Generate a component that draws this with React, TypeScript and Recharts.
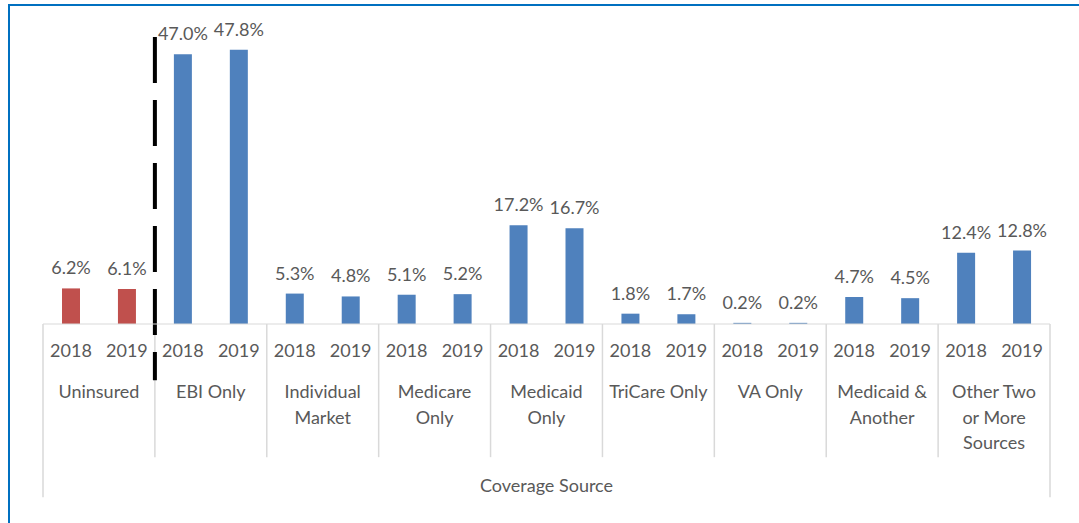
import React from "react";
import {
  BarChart,
  Bar,
  XAxis,
  YAxis,
  Cell,
  LabelList,
  ReferenceLine,
} from "recharts";

// coverage groups, two years each
const groups = [
  ["Uninsured"],
  ["EBI Only"],
  ["Individual", "Market"],
  ["Medicare", "Only"],
  ["Medicaid", "Only"],
  ["TriCare Only"],
  ["VA Only"],
  ["Medicaid &", "Another"],
  ["Other Two", "or More", "Sources"],
];
const years = ["2018", "2019"];
const values2018 = [6.2, 47.0, 5.3, 5.1, 17.2, 1.8, 0.2, 4.7, 12.4];
const values2019 = [6.1, 47.8, 4.8, 5.2, 16.7, 1.7, 0.2, 4.5, 12.8];

const BLUE = "#4F81BD";
const RED = "#C0504D";
const TEXT = "#595959";
const GRID = "#D9D9D9";
const FONT = "Lato, 'Noto Sans', sans-serif";

const data = groups.flatMap((g, i) => [
  { pos: i * 2 + 0.5, year: years[0], value: values2018[i], group: i },
  { pos: i * 2 + 1.5, year: years[1], value: values2019[i], group: i },
]);

const yearTicks = data.map((d) => d.pos);
const groupTicks = groups.map((_, i) => i * 2 + 1);
const separators = groups.map((_, i) => i * 2).concat([groups.length * 2]);

function YearTick(props: any) {
  const { x, y, payload } = props;
  const idx = yearTicks.indexOf(payload.value);
  return (
    <text
      x={x}
      y={y + 25}
      textAnchor="middle"
      fill={TEXT}
      fontSize={18}
      fontFamily={FONT}
    >
      {data[idx] ? data[idx].year : ""}
    </text>
  );
}

function GroupTick(props: any) {
  const { x, y, payload } = props;
  const lines = groups[(payload.value - 1) / 2] || [];
  return (
    <text
      x={x}
      y={y + 26}
      textAnchor="middle"
      fill={TEXT}
      fontSize={18}
      fontFamily={FONT}
    >
      {lines.map((l, i) => (
        <tspan key={i} x={x} dy={i === 0 ? 0 : 25.5}>
          {l}
        </tspan>
      ))}
    </text>
  );
}

export default function App() {
  return (
    <div
      style={{
        position: "absolute",
        left: 0,
        top: 0,
        width: 1079,
        height: 523,
        background: "#fff",
      }}
    >
      <div
        style={{
          position: "absolute",
          left: 8,
          top: 4,
          right: 0,
          bottom: 0,
          borderLeft: "2px solid #0070C0",
          borderTop: "2px solid #0070C0",
        }}
      />
      <BarChart
        width={1079}
        height={523}
        data={data}
        margin={{ top: 37, right: 29, bottom: 39, left: 43 }}
        style={{ position: "absolute", left: 0, top: 0 }}
      >
        <XAxis
          dataKey="pos"
          type="number"
          domain={[0, 18]}
          ticks={yearTicks}
          interval={0}
          tick={<YearTick />}
          tickLine={false}
          axisLine={{ stroke: GRID }}
          height={40}
        />
        <XAxis
          xAxisId="grp"
          dataKey="pos"
          type="number"
          domain={[0, 18]}
          ticks={groupTicks}
          interval={0}
          tick={<GroupTick />}
          tickLine={false}
          axisLine={false}
          height={120}
          label={{
            value: "Coverage Source",
            position: "insideBottom",
            offset: -8,
            fill: TEXT,
            fontSize: 18,
            fontFamily: FONT,
          }}
        />
        <YAxis hide domain={[0, 50]} />
        {separators.map((s, i) => (
          <ReferenceLine
            key={s}
            segment={[
              { x: s, y: 0 },
              { x: s, y: i === 0 || i === separators.length - 1 ? -30.2 : -23.2 },
            ]}
            stroke={GRID}
            strokeWidth={1.5}
            ifOverflow="visible"
          />
        ))}
        <Bar dataKey="value" barSize={18} isAnimationActive={false}>
          {data.map((d, i) => (
            <Cell key={i} fill={d.group === 0 ? RED : BLUE} />
          ))}
          <LabelList
            dataKey="value"
            position="top"
            offset={14}
            fill={TEXT}
            fontSize={18}
            fontFamily={FONT}
            formatter={(v: any) => `${Number(v).toFixed(1)}%`}
          />
        </Bar>
        <ReferenceLine
          segment={[
            { x: 2, y: 50 },
            { x: 2, y: -9.8 },
          ]}
          stroke="#000"
          strokeWidth={4}
          strokeDasharray="46 17"
          ifOverflow="visible"
        />
      </BarChart>
    </div>
  );
}
